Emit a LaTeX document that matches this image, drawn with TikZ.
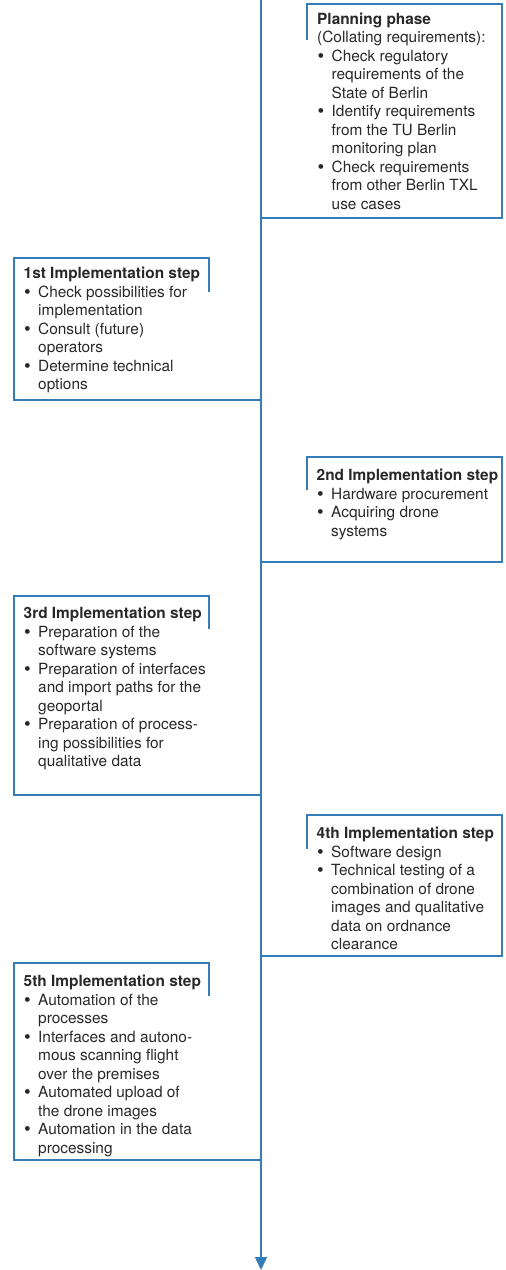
\documentclass[tikz,border=0pt]{standalone}
\usepackage{fontspec}
\setmainfont{TeX Gyre Heros}
\usetikzlibrary{arrows.meta}
\definecolor{lineblue}{RGB}{52,124,186}
\definecolor{txtgray}{RGB}{40,40,40}
\newcommand{\itm}{\makebox[14.5pt][l]{\hspace{0.5pt}\raisebox{-1.2pt}{\fontsize{19}{19}\selectfont\textbullet}}}
\newcommand{\cnt}{\hspace*{14.5pt}}

\begin{document}
\begin{tikzpicture}[
  x=1pt, y=-1pt,
  stepframe/.style={draw=lineblue, line width=1.1pt},
  steptext/.style={anchor=north west, inner sep=0pt, align=left, text=txtgray, font=\fontsize{15.4}{18.5}\selectfont},
  timeline/.style={-{Triangle[width=12pt,length=13pt]}, draw=lineblue, line width=1.5pt}
]
\useasboundingbox (0,0) rectangle (506,1270);
% time axis
\coordinate (start) at (261,0);
\coordinate (end) at (261,1270);
\draw[timeline] (start) -- (end);

% frames (right side / left side)
\draw[stepframe] (261,218) -| (502,4) -- (307,4) -- (307,40);
\draw[stepframe] (261,400) -| (14,258) -- (209,258) -- (209,292);
\draw[stepframe] (261,562) -| (502,457) -- (307,457) -- (307,490);
\draw[stepframe] (261,795) -| (14,596) -- (209,596) -- (209,629);
\draw[stepframe] (261,956) -| (502,815) -- (307,815) -- (307,849);
\draw[stepframe] (261,1160) -| (14,963) -- (209,963) -- (209,996);

% texts
\node[steptext] (plan) at (317,12.4) {\textbf{Planning phase}\\
(Collating requirements):\\
\itm Check regulatory\\
\cnt requirements of the\\
\cnt State of Berlin\\
\itm Identify requirements\\
\cnt from the TU Berlin\\
\cnt monitoring plan\\
\itm Check requirements\\
\cnt from other Berlin TXL\\
\cnt use cases};
\node[steptext] (step1) at (23.5,266.9) {\textbf{1st Implementation step}\\
\itm Check possibilities for\\
\cnt implementation\\
\itm Consult (future)\\
\cnt operators\\
\itm Determine technical\\
\cnt options};
\node[steptext] (step2) at (316.5,468.9) {\textbf{2nd Implementation step}\\
\itm Hardware procurement\\
\itm Acquiring drone\\
\cnt systems};
\node[steptext] (step3) at (23.5,606.9) {\textbf{3rd Implementation step}\\
\itm Preparation of the\\
\cnt software systems\\
\itm Preparation of interfaces\\
\cnt and import paths for the\\
\cnt geoportal\\
\itm Preparation of process-\\
\cnt ing possibilities for\\
\cnt qualitative data};
\node[steptext] (step4) at (316.5,826.9) {\textbf{4th Implementation step}\\
\itm Software design\\
\itm Technical testing of a\\
\cnt combination of drone\\
\cnt images and qualitative\\
\cnt data on ordnance\\
\cnt clearance};
\node[steptext] (step5) at (23.5,974.9) {\textbf{5th Implementation step}\\
\itm Automation of the\\
\cnt processes\\
\itm Interfaces and autono-\\
\cnt mous scanning flight\\
\cnt over the premises\\
\itm Automated upload of\\
\cnt the drone images\\
\itm Automation in the data\\
\cnt processing};
\end{tikzpicture}
\end{document}
